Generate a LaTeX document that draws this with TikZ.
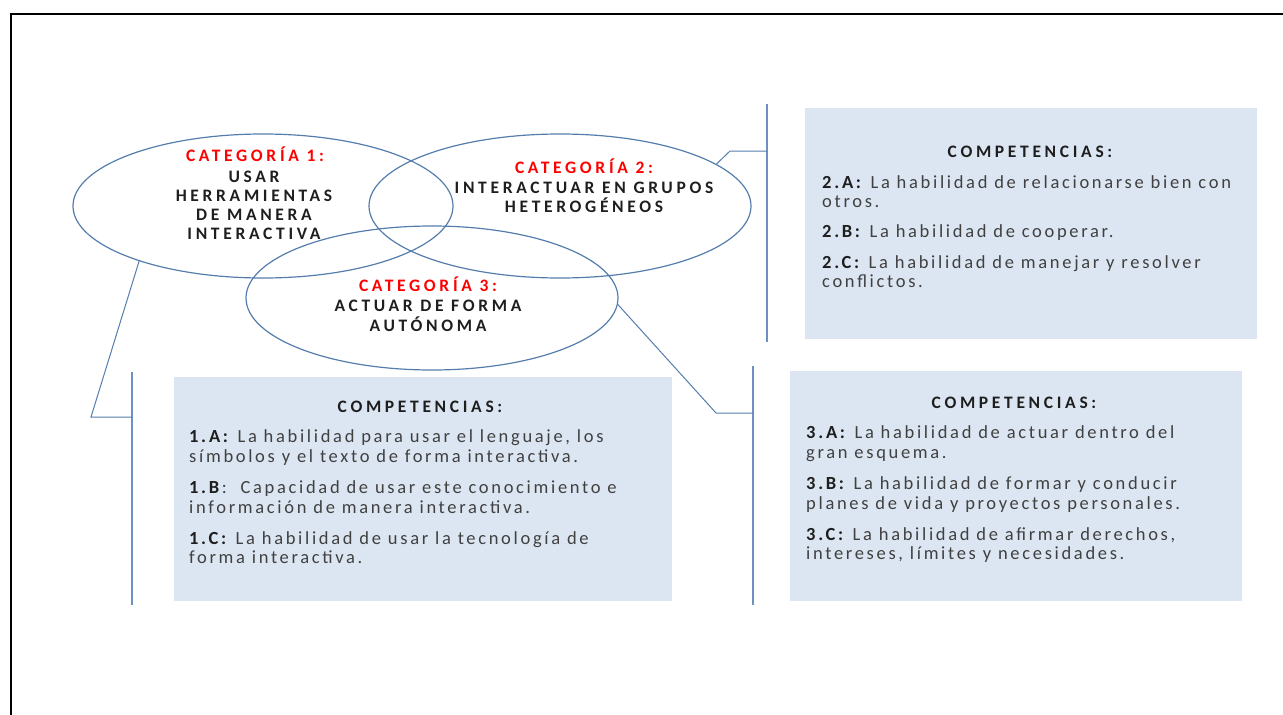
\documentclass[tikz,border=0pt]{standalone}
\usepackage{fontspec}
\usetikzlibrary{shapes.geometric}
\setmainfont{Carlito}
\newfontfamily\capsfam{Carlito}[LetterSpace=21]
\newfontfamily\bodyfam{Carlito}[LetterSpace=14.5]
\newcommand\capsf{\capsfam\fontsize{17.5}{19.5}\selectfont}
\newcommand\bodyf{\bodyfam\fontsize{18.5}{19.5}\selectfont}
\definecolor{ellc}{RGB}{84,125,172}
\definecolor{barc}{RGB}{110,145,195}
\definecolor{boxc}{RGB}{220,230,242}
\definecolor{headc}{RGB}{30,30,30}
\definecolor{bodyc}{RGB}{64,64,64}
\definecolor{redc}{RGB}{255,0,0}
\tikzset{
 ell/.style={ellipse, draw=ellc, line width=1.2pt, minimum width=380pt, minimum height=144pt, inner sep=0pt},
 cbox/.style={rectangle, fill=boxc, draw=none, anchor=north west, inner sep=0pt},
 bar/.style={draw=barc, line width=2pt},
 link/.style={draw=ellc, line width=1pt},
 cat/.style={font=\capsf\bfseries, text=headc, anchor=base, inner sep=0pt},
 catr/.style={cat, text=redc},
 body/.style={font=\bodyf, text=bodyc, anchor=base west, inner sep=0pt}
}
\newcommand\lb[1]{\textcolor{headc}{\textbf{#1}}}
\begin{document}
\begin{tikzpicture}[x=1pt,y=-1pt]
\useasboundingbox (0,0) rectangle (1283,715);
% frame
\draw[line width=2pt] (11,716) -- (11,14) -- (1284,14);
% boxes
\node[cbox, minimum width=498pt, minimum height=224pt] (b1) at (174,377) {};
\node[cbox, minimum width=452pt, minimum height=231pt] (b2) at (805,108) {};
\node[cbox, minimum width=452pt, minimum height=230pt] (b3) at (790,371) {};
% ellipses
\node[ell] (e1) at (263,206) {};
\node[ell, minimum width=382pt] (e2) at (560,206) {};
\node[ell, minimum width=372pt] (e3) at (432,298) {};
% bars
\coordinate (v1t) at (132,372); \coordinate (v1b) at (132,605);
\coordinate (v2t) at (767,104); \coordinate (v2b) at (767,342);
\coordinate (v3t) at (753,366); \coordinate (v3b) at (753,605);
\draw[bar] (v1t) -- (v1b);
\draw[bar] (v2t) -- (v2b);
\draw[bar] (v3t) -- (v3b);
% links
\coordinate (k1) at (91,417); \coordinate (j1) at (132,417);
\coordinate (k2) at (730,151); \coordinate (j2) at (767,151);
\coordinate (k3) at (716,413); \coordinate (j3) at (753,413);
\draw[link] (e1.204.8) -- (k1) -- (j1);
\draw[link] (e2.15.4) -- (k2) -- (j2);
\draw[link] (e3.-2) -- (k3) -- (j3);
% category texts
\node[catr] (t1a) at (255,161.5) {CATEGORÍA 1:};
\node[cat] (t1b) at (254,182.5) {USAR};
\node[cat] (t1c) at (254,201.5) {HERRAMIENTAS};
\node[cat] (t1d) at (254,220.5) {DE MANERA};
\node[cat] (t1e) at (254,239.5) {INTERACTIVA};
\node[catr] (t2a) at (584,173.5) {CATEGORÍA 2:};
\node[cat] (t2b) at (584,193.5) {INTERACTUAR EN GRUPOS};
\node[cat] (t2c) at (584,212.5) {HETEROGÉNEOS};
\node[catr] (t3a) at (428,291.5) {CATEGORÍA 3:};
\node[cat] (t3b) at (428,311.5) {ACTUAR DE FORMA};
\node[cat] (t3c) at (428,331.5) {AUTÓNOMA};
% box 1
\node[cat] (h1) at (420,412.5) {COMPETENCIAS:};
\node[body] (p1a) at (189,442.5) {\lb{1.A:} La habilidad para usar el lenguaje, los};
\node[body] (p1b) at (189,462) {símbolos y el texto de forma interactiva.};
\node[body] (p1c) at (189,493.5) {\lb{1.B}:\ \ Capacidad de usar este conocimiento e};
\node[body] (p1d) at (189,513) {información de manera interactiva.};
\node[body] (p1e) at (189,544) {\lb{1.C:} La habilidad de usar la tecnología de};
\node[body] (p1f) at (189,563.5) {forma interactiva.};
% box 2
\node[cat] (h2) at (1030,157.5) {COMPETENCIAS:};
\node[body] (p2a) at (822,188) {\lb{2.A:} La habilidad de relacionarse bien con};
\node[body] (p2b) at (822,207.5) {otros.};
\node[body] (p2c) at (822,237) {\lb{2.B:} La habilidad de cooperar.};
\node[body] (p2d) at (822,268) {\lb{2.C:} La habilidad de manejar y resolver};
\node[body] (p2e) at (822,287.5) {conflictos.};
% box 3
\node[cat] (h3) at (1014,408.5) {COMPETENCIAS:};
\node[body] (p3a) at (806,438.5) {\lb{3.A:} La habilidad de actuar dentro del};
\node[body] (p3b) at (806,458) {gran esquema.};
\node[body] (p3c) at (806,489.5) {\lb{3.B:} La habilidad de formar y conducir};
\node[body] (p3d) at (806,509) {planes de vida y proyectos personales.};
\node[body] (p3e) at (806,540) {\lb{3.C:} La habilidad de afirmar derechos,};
\node[body] (p3f) at (806,559.5) {intereses, límites y necesidades.};
\end{tikzpicture}
\end{document}
